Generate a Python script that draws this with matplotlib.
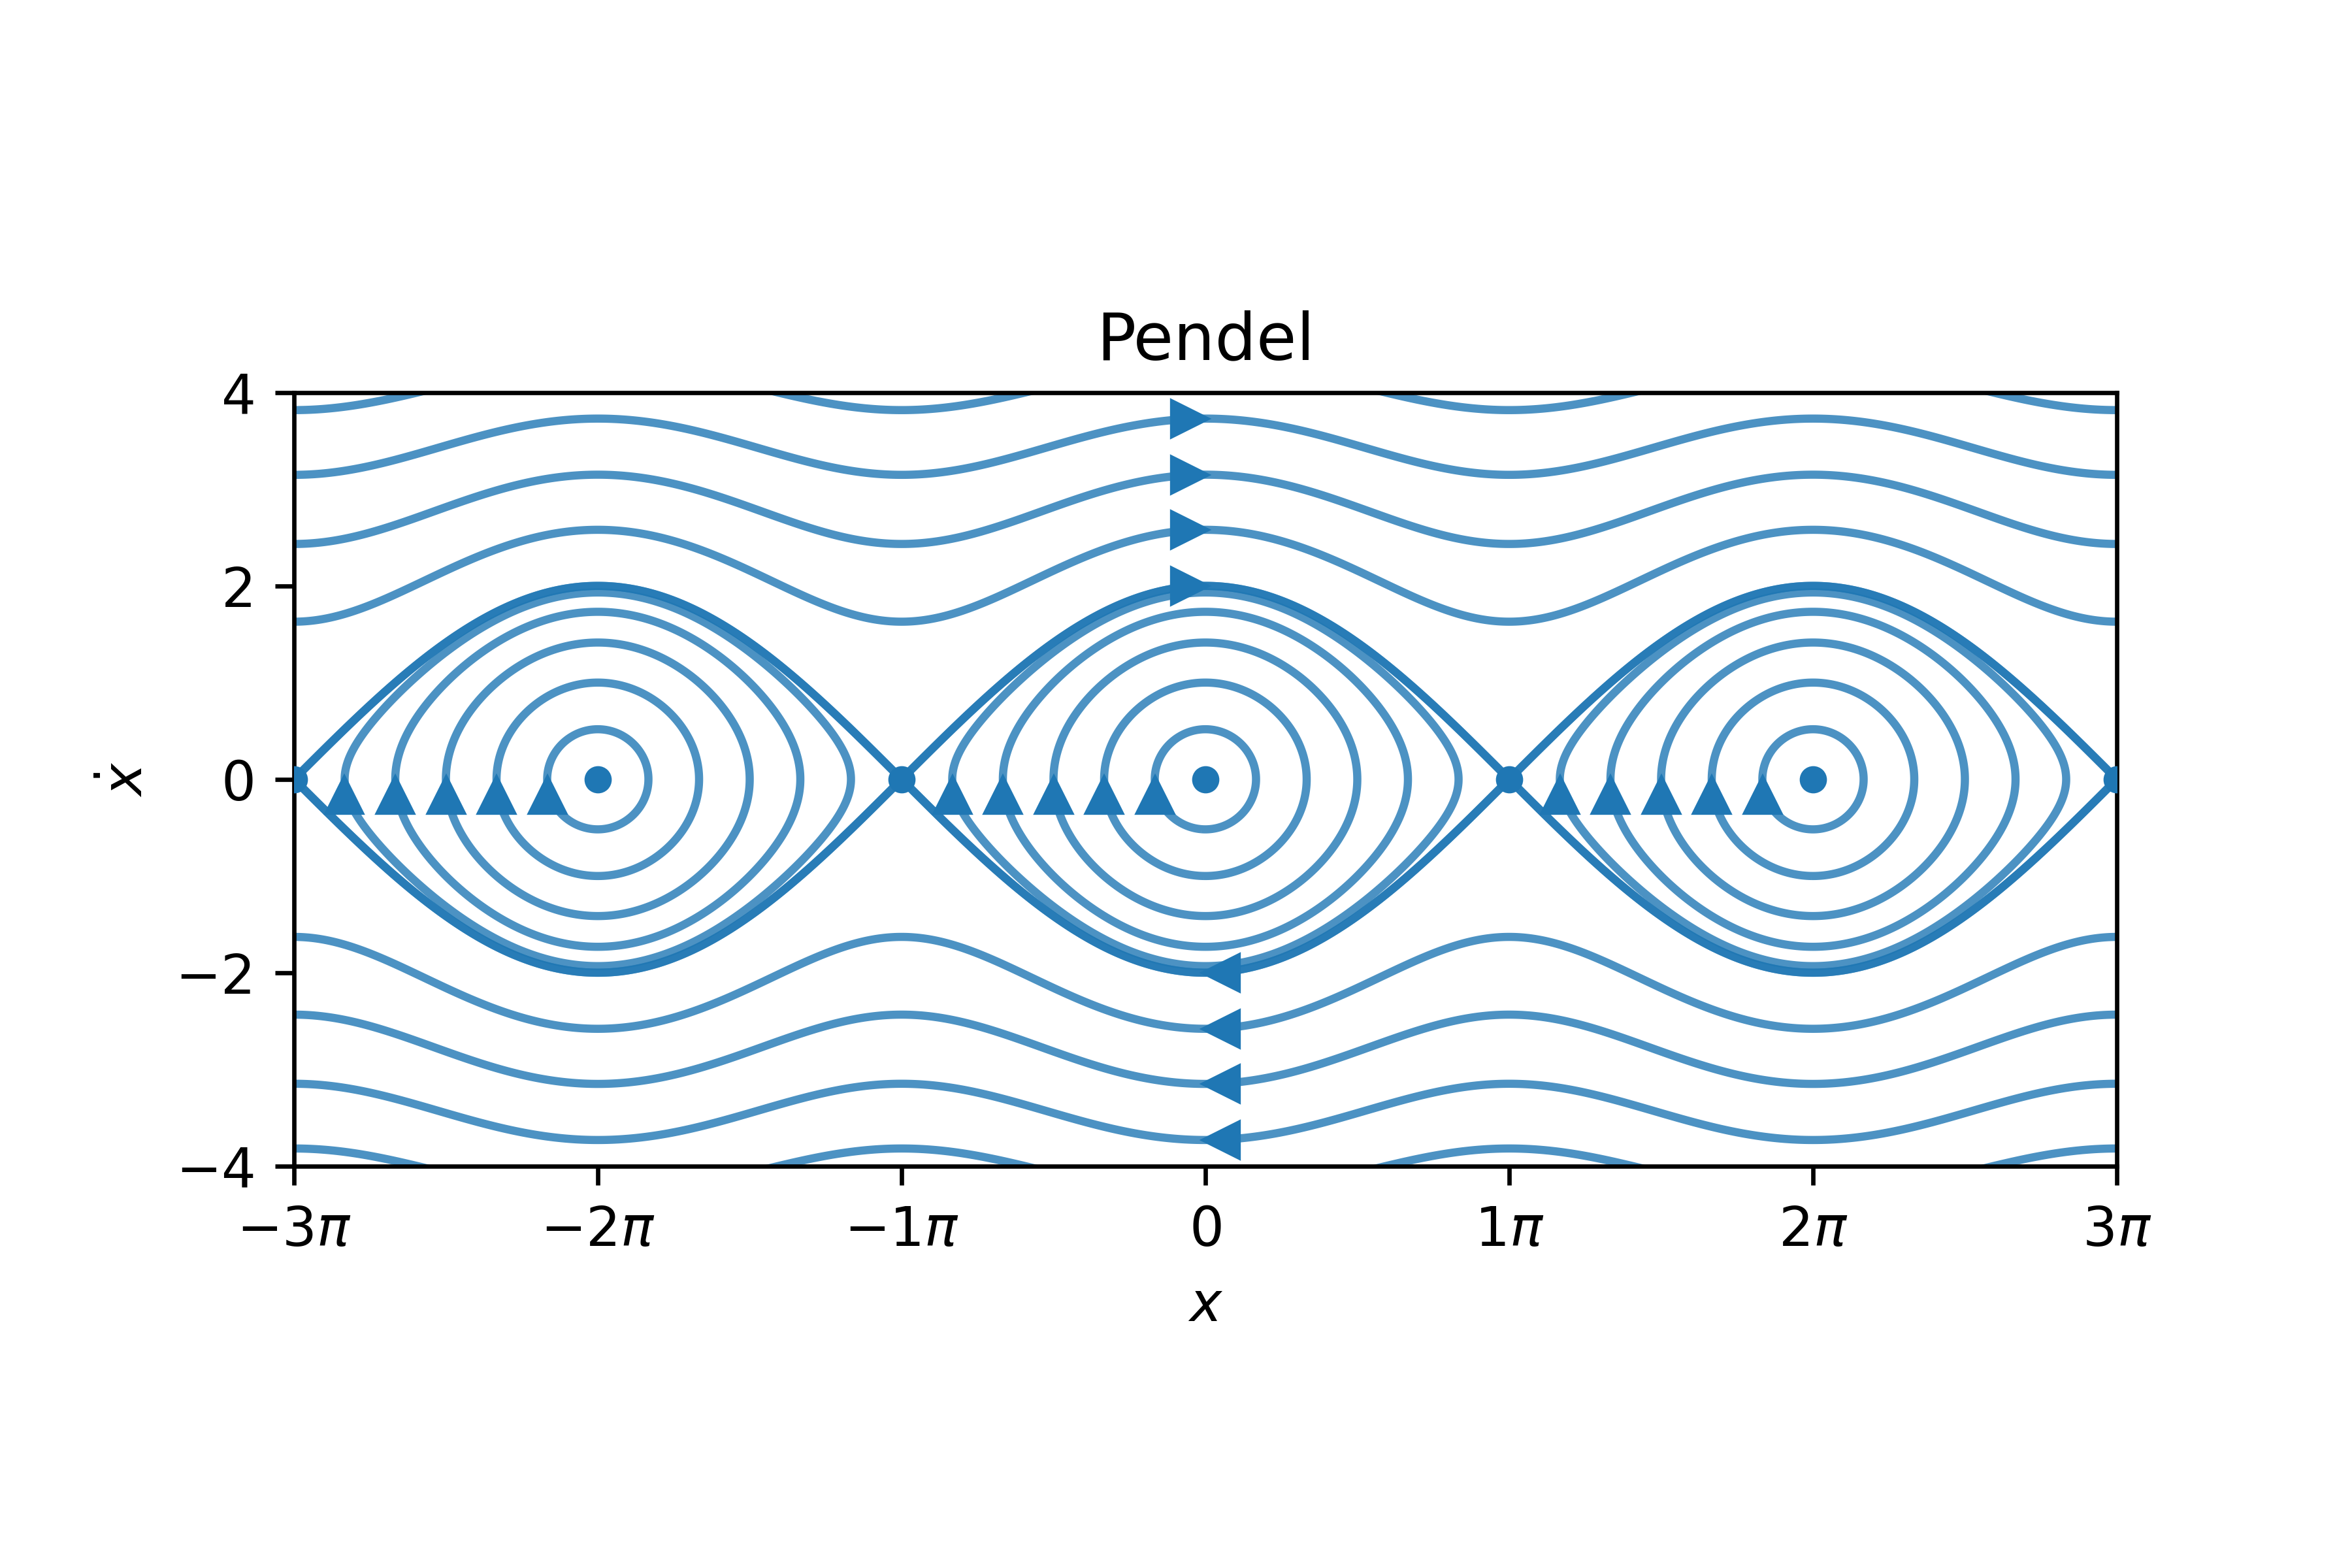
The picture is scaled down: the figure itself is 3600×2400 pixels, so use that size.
import numpy as np
import matplotlib.pyplot as plt
from matplotlib.transforms import offset_copy

# start amplitudes of the swinging orbits (multiples of pi, started at rest)
amplitudes = [1/6, 2/6, 3/6, 4/6, 5/6, 1]
# start speeds of the rotating orbits (started at x = 0)
rot_speeds = [2.0, 2.58, 3.15, 3.73, 4.31]
# fixed points (multiples of pi)
centers = [-2, 0, 2]
saddles = [-3, -1, 1, 3]
xtick_labels = [r'$-3\pi$', r'$-2\pi$', r'$-1\pi$', r'$0$', r'$1\pi$', r'$2\pi$', r'$3\pi$']

fig, ax = plt.subplots(figsize=(6, 4))
fig.subplots_adjust(bottom=0.118, top=0.888)

# energy of the pendulum, orbits are its level lines
xs = np.linspace(-3 * np.pi, 3 * np.pi, 3001)
vs = np.linspace(-4.6, 4.6, 1501)
X, V = np.meshgrid(xs, vs)
H = V ** 2 / 2 - np.cos(X)

swing_levels = [-np.cos(a * np.pi) for a in amplitudes]
rot_levels = [v ** 2 / 2 - 1 for v in rot_speeds]
ax.contour(X, V, H, levels=swing_levels, colors='C0', linewidths=1.5,
           linestyles='solid', alpha=0.8, zorder=2)
ax.contour(X, V, H, levels=rot_levels, colors='C0', linewidths=1.5,
           linestyles='solid', alpha=0.8, zorder=2)

# direction markers, tip sitting on the start point
tr_up = offset_copy(ax.transData, fig=fig, x=0, y=-3, units='points')
tr_right = offset_copy(ax.transData, fig=fig, x=-3, y=0, units='points')
tr_left = offset_copy(ax.transData, fig=fig, x=3, y=0, units='points')
for c in centers:
    for a in amplitudes[:-1]:
        ax.plot((c - a) * np.pi, 0, '^', color='C0', ms=6, transform=tr_up, zorder=3)
for v in rot_speeds:
    ax.plot(0, v, '>', color='C0', ms=6, transform=tr_right, zorder=3)
    ax.plot(0, -v, '<', color='C0', ms=6, transform=tr_left, zorder=3)

ax.plot(np.array(centers) * np.pi, np.zeros(len(centers)), 'o', color='C0', ms=4, zorder=3)
ax.plot(np.array(saddles) * np.pi, np.zeros(len(saddles)), 'o', color='C0', ms=4, zorder=3)

ax.set_xlim(-3 * np.pi, 3 * np.pi)
ax.set_ylim(-4, 4)
ax.set_aspect('equal')
ax.set_xticks(np.arange(-3, 4) * np.pi)
ax.set_xticklabels(xtick_labels)
ax.set_yticks([-4, -2, 0, 2, 4])
ax.set_xlabel(r'$x$')
ax.set_ylabel(r'$\dot{x}$')
ax.set_title('Pendel')

plt.savefig('out.png', dpi=600)
